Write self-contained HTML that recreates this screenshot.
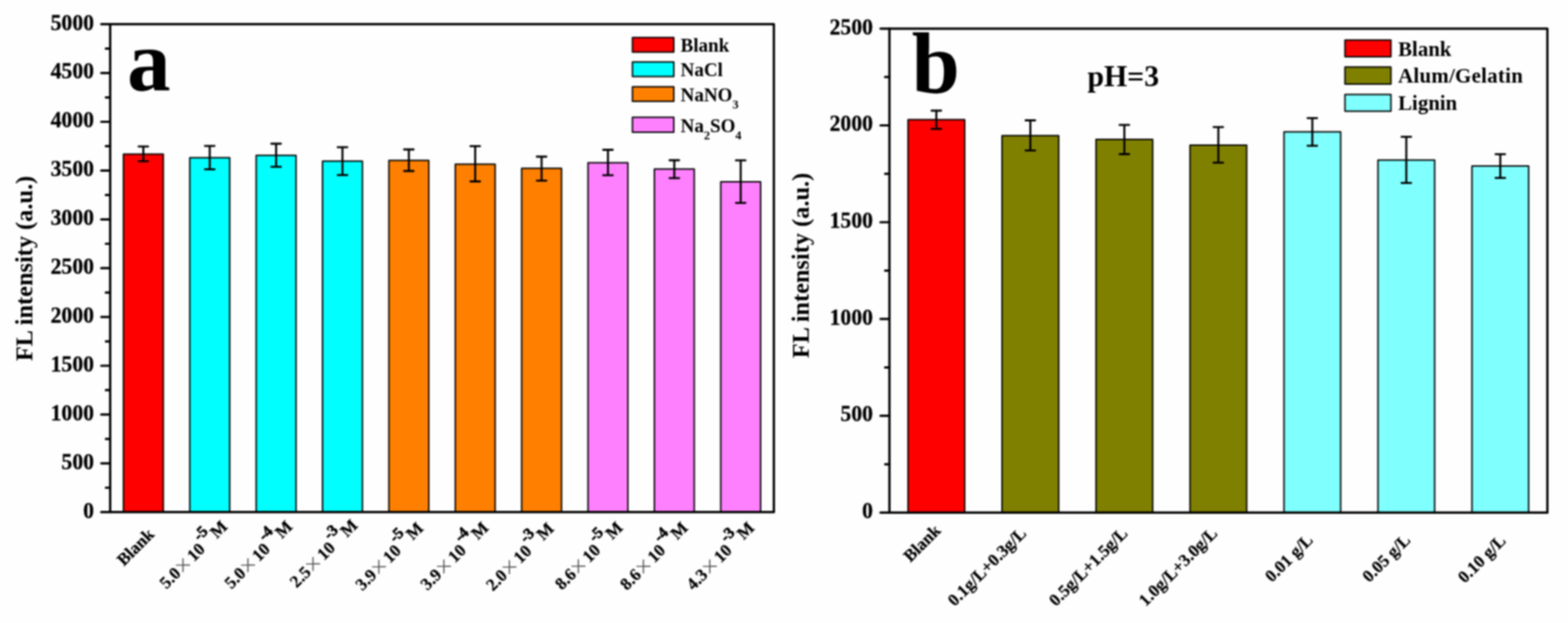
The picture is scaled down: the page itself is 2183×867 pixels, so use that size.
<!DOCTYPE html>
<html lang="en">
<head>
<meta charset="utf-8">
<title>FL intensity bar charts</title>
<style>
html, body { margin: 0; padding: 0; background: #fefefe; }
body { width: 2183px; height: 867px; overflow: hidden; }
svg { display: block; filter: blur(0.8px); }
svg text { font-family: "Liberation Serif", "Times New Roman", serif; font-weight: bold; fill: #000; }
svg .x { font-family: "IPAGothic", "Noto Sans CJK SC", "Liberation Serif", serif; font-weight: normal; fill: #555; }
</style>
</head>
<body>
<svg width="2183" height="867" viewBox="0 0 2183 867">
<rect x="0" y="0" width="2183" height="867" fill="#fefefe"/>
<rect x="171.85" y="214.6" width="55.5" height="498.1" fill="#ff0000" stroke="#000" stroke-width="2" stroke-linejoin="round"/>
<path d="M192.95 203.8H206.25M192.95 224.3H206.25M199.6 203.8V224.3" stroke="#000" stroke-width="2.8" fill="none" stroke-linecap="round"/>
<rect x="264.25" y="219.5" width="55.5" height="493.2" fill="#00ffff" stroke="#000" stroke-width="2" stroke-linejoin="round"/>
<path d="M285.35 203.1H298.65M285.35 235.7H298.65M292 203.1V235.7" stroke="#000" stroke-width="2.8" fill="none" stroke-linecap="round"/>
<rect x="356.65" y="216.3" width="55.5" height="496.4" fill="#00ffff" stroke="#000" stroke-width="2" stroke-linejoin="round"/>
<path d="M377.75 200H391.05M377.75 232.2H391.05M384.4 200V232.2" stroke="#000" stroke-width="2.8" fill="none" stroke-linecap="round"/>
<rect x="449.05" y="224.3" width="55.5" height="488.4" fill="#00ffff" stroke="#000" stroke-width="2" stroke-linejoin="round"/>
<path d="M470.15 204.9H483.45M470.15 243.7H483.45M476.8 204.9V243.7" stroke="#000" stroke-width="2.8" fill="none" stroke-linecap="round"/>
<rect x="541.45" y="223.2" width="55.5" height="489.5" fill="#ff8000" stroke="#000" stroke-width="2" stroke-linejoin="round"/>
<path d="M562.55 208H575.85M562.55 238H575.85M569.2 208V238" stroke="#000" stroke-width="2.8" fill="none" stroke-linecap="round"/>
<rect x="633.85" y="228.5" width="55.5" height="484.2" fill="#ff8000" stroke="#000" stroke-width="2" stroke-linejoin="round"/>
<path d="M654.95 203.4H668.25M654.95 252.5H668.25M661.6 203.4V252.5" stroke="#000" stroke-width="2.8" fill="none" stroke-linecap="round"/>
<rect x="726.25" y="234.3" width="55.5" height="478.4" fill="#ff8000" stroke="#000" stroke-width="2" stroke-linejoin="round"/>
<path d="M747.35 218H760.65M747.35 251.3H760.65M754 218V251.3" stroke="#000" stroke-width="2.8" fill="none" stroke-linecap="round"/>
<rect x="818.65" y="226.5" width="55.5" height="486.2" fill="#ff80ff" stroke="#000" stroke-width="2" stroke-linejoin="round"/>
<path d="M839.75 208.5H853.05M839.75 243.9H853.05M846.4 208.5V243.9" stroke="#000" stroke-width="2.8" fill="none" stroke-linecap="round"/>
<rect x="911.05" y="235.2" width="55.5" height="477.5" fill="#ff80ff" stroke="#000" stroke-width="2" stroke-linejoin="round"/>
<path d="M932.15 223H945.45M932.15 247.9H945.45M938.8 223V247.9" stroke="#000" stroke-width="2.8" fill="none" stroke-linecap="round"/>
<rect x="1003.45" y="253.1" width="55.5" height="459.6" fill="#ff80ff" stroke="#000" stroke-width="2" stroke-linejoin="round"/>
<path d="M1024.55 223.2H1037.85M1024.55 282.3H1037.85M1031.2 223.2V282.3" stroke="#000" stroke-width="2.8" fill="none" stroke-linecap="round"/>
<rect x="153.4" y="33.7" width="924" height="679" fill="none" stroke="#000" stroke-width="3.2" stroke-linejoin="round"/>
<line x1="141" y1="712.7" x2="153.4" y2="712.7" stroke="#000" stroke-width="3.2" stroke-linecap="round"/>
<text transform="translate(130.9 720.5) scale(1 1.05)" text-anchor="end" font-size="30.2" stroke="#000" stroke-width="0.35">0</text>
<line x1="147.4" y1="678.75" x2="153.4" y2="678.75" stroke="#000" stroke-width="3.2" stroke-linecap="round"/>
<line x1="141" y1="644.8" x2="153.4" y2="644.8" stroke="#000" stroke-width="3.2" stroke-linecap="round"/>
<text transform="translate(130.9 652.6) scale(1 1.05)" text-anchor="end" font-size="30.2" stroke="#000" stroke-width="0.35">500</text>
<line x1="147.4" y1="610.85" x2="153.4" y2="610.85" stroke="#000" stroke-width="3.2" stroke-linecap="round"/>
<line x1="141" y1="576.9" x2="153.4" y2="576.9" stroke="#000" stroke-width="3.2" stroke-linecap="round"/>
<text transform="translate(130.9 584.7) scale(1 1.05)" text-anchor="end" font-size="30.2" stroke="#000" stroke-width="0.35">1000</text>
<line x1="147.4" y1="542.95" x2="153.4" y2="542.95" stroke="#000" stroke-width="3.2" stroke-linecap="round"/>
<line x1="141" y1="509" x2="153.4" y2="509" stroke="#000" stroke-width="3.2" stroke-linecap="round"/>
<text transform="translate(130.9 516.8) scale(1 1.05)" text-anchor="end" font-size="30.2" stroke="#000" stroke-width="0.35">1500</text>
<line x1="147.4" y1="475.05" x2="153.4" y2="475.05" stroke="#000" stroke-width="3.2" stroke-linecap="round"/>
<line x1="141" y1="441.1" x2="153.4" y2="441.1" stroke="#000" stroke-width="3.2" stroke-linecap="round"/>
<text transform="translate(130.9 448.9) scale(1 1.05)" text-anchor="end" font-size="30.2" stroke="#000" stroke-width="0.35">2000</text>
<line x1="147.4" y1="407.15" x2="153.4" y2="407.15" stroke="#000" stroke-width="3.2" stroke-linecap="round"/>
<line x1="141" y1="373.2" x2="153.4" y2="373.2" stroke="#000" stroke-width="3.2" stroke-linecap="round"/>
<text transform="translate(130.9 381) scale(1 1.05)" text-anchor="end" font-size="30.2" stroke="#000" stroke-width="0.35">2500</text>
<line x1="147.4" y1="339.25" x2="153.4" y2="339.25" stroke="#000" stroke-width="3.2" stroke-linecap="round"/>
<line x1="141" y1="305.3" x2="153.4" y2="305.3" stroke="#000" stroke-width="3.2" stroke-linecap="round"/>
<text transform="translate(130.9 313.1) scale(1 1.05)" text-anchor="end" font-size="30.2" stroke="#000" stroke-width="0.35">3000</text>
<line x1="147.4" y1="271.35" x2="153.4" y2="271.35" stroke="#000" stroke-width="3.2" stroke-linecap="round"/>
<line x1="141" y1="237.4" x2="153.4" y2="237.4" stroke="#000" stroke-width="3.2" stroke-linecap="round"/>
<text transform="translate(130.9 245.2) scale(1 1.05)" text-anchor="end" font-size="30.2" stroke="#000" stroke-width="0.35">3500</text>
<line x1="147.4" y1="203.45" x2="153.4" y2="203.45" stroke="#000" stroke-width="3.2" stroke-linecap="round"/>
<line x1="141" y1="169.5" x2="153.4" y2="169.5" stroke="#000" stroke-width="3.2" stroke-linecap="round"/>
<text transform="translate(130.9 177.3) scale(1 1.05)" text-anchor="end" font-size="30.2" stroke="#000" stroke-width="0.35">4000</text>
<line x1="147.4" y1="135.55" x2="153.4" y2="135.55" stroke="#000" stroke-width="3.2" stroke-linecap="round"/>
<line x1="141" y1="101.6" x2="153.4" y2="101.6" stroke="#000" stroke-width="3.2" stroke-linecap="round"/>
<text transform="translate(130.9 109.4) scale(1 1.05)" text-anchor="end" font-size="30.2" stroke="#000" stroke-width="0.35">4500</text>
<line x1="147.4" y1="67.65" x2="153.4" y2="67.65" stroke="#000" stroke-width="3.2" stroke-linecap="round"/>
<line x1="141" y1="33.7" x2="153.4" y2="33.7" stroke="#000" stroke-width="3.2" stroke-linecap="round"/>
<text transform="translate(130.9 41.5) scale(1 1.05)" text-anchor="end" font-size="30.2" stroke="#000" stroke-width="0.35">5000</text>
<text transform="translate(44.6 373.6) rotate(-90)" text-anchor="middle" font-size="33.9">FL intensity (a.u.)</text>
<text x="177" y="126" font-size="121">a</text>
<rect x="880.5" y="52.2" width="57.6" height="20.2" fill="#ff0000" stroke="#000" stroke-width="2" stroke-linejoin="round"/>
<rect x="880.5" y="86.2" width="57.6" height="20.4" fill="#00ffff" stroke="#000" stroke-width="2" stroke-linejoin="round"/>
<rect x="880.5" y="120.7" width="57.6" height="20.2" fill="#ff8000" stroke="#000" stroke-width="2" stroke-linejoin="round"/>
<rect x="880.5" y="163.2" width="57.6" height="20.7" fill="#ff80ff" stroke="#000" stroke-width="2" stroke-linejoin="round"/>
<text x="947.5" y="72.1" font-size="26.5">Blank</text>
<text x="947.5" y="106.4" font-size="26.5">NaCl</text>
<text x="947.5" y="140.7" font-size="26.5">NaNO<tspan font-size="17" dy="10">3</tspan></text>
<text x="947.5" y="183.6" font-size="26.5">Na<tspan font-size="17" dy="10">2</tspan><tspan dy="-10">SO</tspan><tspan font-size="17" dy="10">4</tspan></text>
<text transform="translate(172.5 788.5) rotate(-45)" font-size="24" stroke="#000" stroke-width="0.3">Blank</text>
<text transform="translate(231.7 820.6) rotate(-45)" font-size="24" stroke="#000" stroke-width="0.3">5.0<tspan class="x" dx="-1.7" dy="1.3" stroke="none">×</tspan><tspan dx="1.7" dy="-1.3">10</tspan><tspan font-size="22" dx="1.8" dy="-15" stroke="#000" stroke-width="0.8">-5</tspan><tspan dx="-4.7" dy="15"> M</tspan></text>
<text transform="translate(322.2 820.6) rotate(-45)" font-size="24" stroke="#000" stroke-width="0.3">5.0<tspan class="x" dx="-1.7" dy="1.3" stroke="none">×</tspan><tspan dx="1.7" dy="-1.3">10</tspan><tspan font-size="22" dx="1.8" dy="-15" stroke="#000" stroke-width="0.8">-4</tspan><tspan dx="-4.7" dy="15"> M</tspan></text>
<text transform="translate(412.9 818.9) rotate(-45)" font-size="24" stroke="#000" stroke-width="0.3">2.5<tspan class="x" dx="-1.7" dy="1.3" stroke="none">×</tspan><tspan dx="1.7" dy="-1.3">10</tspan><tspan font-size="22" dx="1.8" dy="-15" stroke="#000" stroke-width="0.8">-3</tspan><tspan dx="-4.7" dy="15"> M</tspan></text>
<text transform="translate(504.5 822.9) rotate(-45)" font-size="24" stroke="#000" stroke-width="0.3">3.9<tspan class="x" dx="-1.7" dy="1.3" stroke="none">×</tspan><tspan dx="1.7" dy="-1.3">10</tspan><tspan font-size="22" dx="1.8" dy="-15" stroke="#000" stroke-width="0.8">-5</tspan><tspan dx="-4.7" dy="15"> M</tspan></text>
<text transform="translate(595.1 822.4) rotate(-45)" font-size="24" stroke="#000" stroke-width="0.3">3.9<tspan class="x" dx="-1.7" dy="1.3" stroke="none">×</tspan><tspan dx="1.7" dy="-1.3">10</tspan><tspan font-size="22" dx="1.8" dy="-15" stroke="#000" stroke-width="0.8">-4</tspan><tspan dx="-4.7" dy="15"> M</tspan></text>
<text transform="translate(686.3 823.4) rotate(-45)" font-size="24" stroke="#000" stroke-width="0.3">2.0<tspan class="x" dx="-1.7" dy="1.3" stroke="none">×</tspan><tspan dx="1.7" dy="-1.3">10</tspan><tspan font-size="22" dx="1.8" dy="-15" stroke="#000" stroke-width="0.8">-3</tspan><tspan dx="-4.7" dy="15"> M</tspan></text>
<text transform="translate(782.2 822.1) rotate(-45)" font-size="24" stroke="#000" stroke-width="0.3">8.6<tspan class="x" dx="-1.7" dy="1.3" stroke="none">×</tspan><tspan dx="1.7" dy="-1.3">10</tspan><tspan font-size="22" dx="1.8" dy="-15" stroke="#000" stroke-width="0.8">-5</tspan><tspan dx="-4.7" dy="15"> M</tspan></text>
<text transform="translate(872.7 822.4) rotate(-45)" font-size="24" stroke="#000" stroke-width="0.3">8.6<tspan class="x" dx="-1.7" dy="1.3" stroke="none">×</tspan><tspan dx="1.7" dy="-1.3">10</tspan><tspan font-size="22" dx="1.8" dy="-15" stroke="#000" stroke-width="0.8">-4</tspan><tspan dx="-4.7" dy="15"> M</tspan></text>
<text transform="translate(965.2 822.4) rotate(-45)" font-size="24" stroke="#000" stroke-width="0.3">4.3<tspan class="x" dx="-1.7" dy="1.3" stroke="none">×</tspan><tspan dx="1.7" dy="-1.3">10</tspan><tspan font-size="22" dx="1.8" dy="-15" stroke="#000" stroke-width="0.8">-3</tspan><tspan dx="-4.7" dy="15"> M</tspan></text>
<rect x="1264.18" y="166.5" width="78.9" height="546.9" fill="#ff0000" stroke="#000" stroke-width="2" stroke-linejoin="round"/>
<path d="M1296.98 154H1310.28M1296.98 179.4H1310.28M1303.63 154V179.4" stroke="#000" stroke-width="2.8" fill="none" stroke-linecap="round"/>
<rect x="1395.04" y="188.7" width="78.9" height="524.7" fill="#808000" stroke="#000" stroke-width="2" stroke-linejoin="round"/>
<path d="M1427.84 167.5H1441.14M1427.84 209.3H1441.14M1434.49 167.5V209.3" stroke="#000" stroke-width="2.8" fill="none" stroke-linecap="round"/>
<rect x="1525.89" y="194" width="78.9" height="519.4" fill="#808000" stroke="#000" stroke-width="2" stroke-linejoin="round"/>
<path d="M1558.69 173.9H1571.99M1558.69 214.5H1571.99M1565.34 173.9V214.5" stroke="#000" stroke-width="2.8" fill="none" stroke-linecap="round"/>
<rect x="1656.75" y="202.1" width="78.9" height="511.3" fill="#808000" stroke="#000" stroke-width="2" stroke-linejoin="round"/>
<path d="M1689.55 176.8H1702.85M1689.55 226.3H1702.85M1696.2 176.8V226.3" stroke="#000" stroke-width="2.8" fill="none" stroke-linecap="round"/>
<rect x="1787.61" y="183.5" width="78.9" height="529.9" fill="#80ffff" stroke="#000" stroke-width="2" stroke-linejoin="round"/>
<path d="M1820.41 164.3H1833.71M1820.41 202.9H1833.71M1827.06 164.3V202.9" stroke="#000" stroke-width="2.8" fill="none" stroke-linecap="round"/>
<rect x="1918.46" y="222.8" width="78.9" height="490.6" fill="#80ffff" stroke="#000" stroke-width="2" stroke-linejoin="round"/>
<path d="M1951.26 190.4H1964.56M1951.26 254.6H1964.56M1957.91 190.4V254.6" stroke="#000" stroke-width="2.8" fill="none" stroke-linecap="round"/>
<rect x="2049.32" y="231" width="78.9" height="482.4" fill="#80ffff" stroke="#000" stroke-width="2" stroke-linejoin="round"/>
<path d="M2082.12 214.6H2095.42M2082.12 247.7H2095.42M2088.77 214.6V247.7" stroke="#000" stroke-width="2.8" fill="none" stroke-linecap="round"/>
<rect x="1238.3" y="39.8" width="916" height="673.6" fill="none" stroke="#000" stroke-width="3.2" stroke-linejoin="round"/>
<line x1="1225.9" y1="713.4" x2="1238.3" y2="713.4" stroke="#000" stroke-width="3.2" stroke-linecap="round"/>
<text transform="translate(1215.4 721.2) scale(1 1.05)" text-anchor="end" font-size="30.2" stroke="#000" stroke-width="0.35">0</text>
<line x1="1232.3" y1="646.04" x2="1238.3" y2="646.04" stroke="#000" stroke-width="3.2" stroke-linecap="round"/>
<line x1="1225.9" y1="578.68" x2="1238.3" y2="578.68" stroke="#000" stroke-width="3.2" stroke-linecap="round"/>
<text transform="translate(1215.4 586.48) scale(1 1.05)" text-anchor="end" font-size="30.2" stroke="#000" stroke-width="0.35">500</text>
<line x1="1232.3" y1="511.32" x2="1238.3" y2="511.32" stroke="#000" stroke-width="3.2" stroke-linecap="round"/>
<line x1="1225.9" y1="443.96" x2="1238.3" y2="443.96" stroke="#000" stroke-width="3.2" stroke-linecap="round"/>
<text transform="translate(1215.4 451.76) scale(1 1.05)" text-anchor="end" font-size="30.2" stroke="#000" stroke-width="0.35">1000</text>
<line x1="1232.3" y1="376.6" x2="1238.3" y2="376.6" stroke="#000" stroke-width="3.2" stroke-linecap="round"/>
<line x1="1225.9" y1="309.24" x2="1238.3" y2="309.24" stroke="#000" stroke-width="3.2" stroke-linecap="round"/>
<text transform="translate(1215.4 317.04) scale(1 1.05)" text-anchor="end" font-size="30.2" stroke="#000" stroke-width="0.35">1500</text>
<line x1="1232.3" y1="241.88" x2="1238.3" y2="241.88" stroke="#000" stroke-width="3.2" stroke-linecap="round"/>
<line x1="1225.9" y1="174.52" x2="1238.3" y2="174.52" stroke="#000" stroke-width="3.2" stroke-linecap="round"/>
<text transform="translate(1215.4 182.32) scale(1 1.05)" text-anchor="end" font-size="30.2" stroke="#000" stroke-width="0.35">2000</text>
<line x1="1232.3" y1="107.16" x2="1238.3" y2="107.16" stroke="#000" stroke-width="3.2" stroke-linecap="round"/>
<line x1="1225.9" y1="39.8" x2="1238.3" y2="39.8" stroke="#000" stroke-width="3.2" stroke-linecap="round"/>
<text transform="translate(1215.4 47.6) scale(1 1.05)" text-anchor="end" font-size="30.2" stroke="#000" stroke-width="0.35">2500</text>
<text transform="translate(1125.6 369.5) rotate(-90)" text-anchor="middle" font-size="33.9">FL intensity (a.u.)</text>
<text x="1269.2" y="129.2" font-size="120.5">b</text>
<text x="1514" y="120" font-size="41.5">pH=3</text>
<rect x="1872.5" y="55.8" width="64" height="23.1" fill="#ff0000" stroke="#000" stroke-width="2" stroke-linejoin="round"/>
<rect x="1872.5" y="93.3" width="64" height="23.6" fill="#808000" stroke="#000" stroke-width="2" stroke-linejoin="round"/>
<rect x="1872.5" y="131.5" width="64" height="23.2" fill="#80ffff" stroke="#000" stroke-width="2" stroke-linejoin="round"/>
<text x="1946.5" y="77.5" font-size="29">Blank</text>
<text x="1946.5" y="115" font-size="29" letter-spacing="0.4">Alum/Gelatin</text>
<text x="1946.5" y="152.8" font-size="29">Lignin</text>
<text transform="translate(1267.5 783.2) rotate(-45)" font-size="24" stroke="#000" stroke-width="0.3">Blank</text>
<text transform="translate(1329 844.7) rotate(-45)" font-size="24" stroke="#000" stroke-width="0.3">0.1g/L+0.3g/L</text>
<text transform="translate(1470 844.7) rotate(-45)" font-size="24" stroke="#000" stroke-width="0.3">0.5g/L+1.5g/L</text>
<text transform="translate(1595 844.7) rotate(-45)" font-size="24" stroke="#000" stroke-width="0.3">1.0g/L+3.0g/L</text>
<text transform="translate(1770.7 811.3) rotate(-45)" font-size="24" stroke="#000" stroke-width="0.3">0.01 g/L</text>
<text transform="translate(1906.3 811.5) rotate(-45)" font-size="24" stroke="#000" stroke-width="0.3">0.05 g/L</text>
<text transform="translate(2039.2 812.5) rotate(-45)" font-size="24" stroke="#000" stroke-width="0.3">0.10 g/L</text>
</svg>
</body>
</html>
